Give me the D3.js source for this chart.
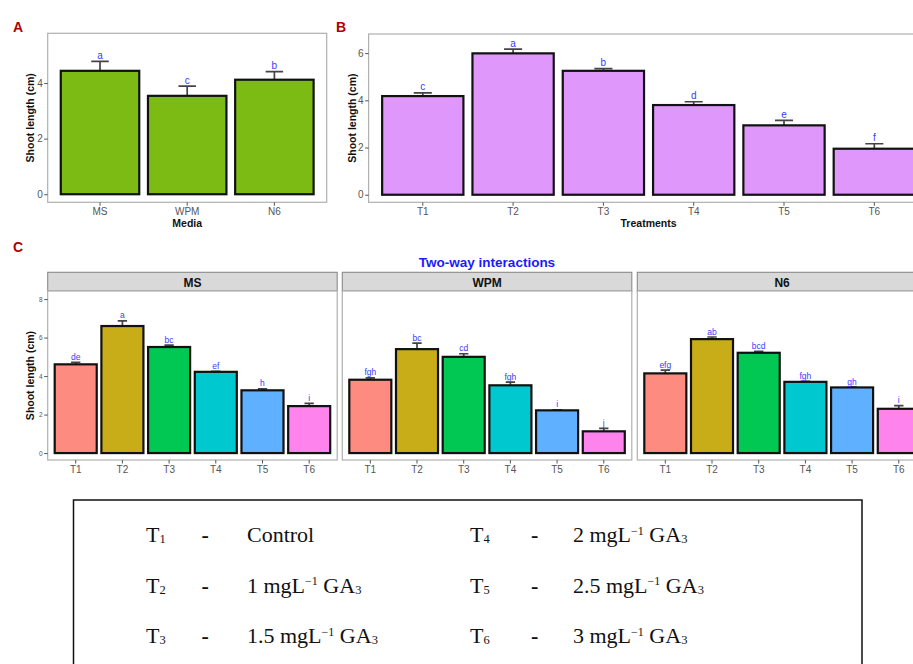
<!DOCTYPE html>
<html>
<head>
<meta charset="utf-8">
<script src="https://cdn.jsdelivr.net/npm/d3@7"></script>
<style>
  body { margin: 0; background: #fff; }
</style>
</head>
<body>
<svg width="913" height="664"></svg>
<script>
// ---- data ----
const media = ["MS", "WPM", "N6"];
const mediaMean = [4.44, 3.54, 4.12];
const mediaSE = [0.34, 0.35, 0.29];
const mediaLetters = ["a", "c", "b"];

const treatments = ["T1", "T2", "T3", "T4", "T5", "T6"];
const treatMean = [4.18, 5.99, 5.25, 3.80, 2.94, 1.95];
const treatSE = [0.14, 0.18, 0.09, 0.14, 0.21, 0.21];
const treatLetters = ["c", "a", "b", "d", "e", "f"];

const msMean = [4.61, 6.60, 5.51, 4.22, 3.26, 2.44];
const msSE = [0.10, 0.27, 0.10, 0.03, 0.08, 0.14];
const msLetters = ["de", "a", "bc", "ef", "h", "i"];

const wpmMean = [3.81, 5.40, 5.00, 3.52, 2.22, 1.13];
const wpmSE = [0.10, 0.31, 0.16, 0.17, 0.02, 0.15];
const wpmLetters = ["fgh", "bc", "cd", "fgh", "i", "j"];

const n6Mean = [4.14, 5.92, 5.21, 3.70, 3.41, 2.30];
const n6SE = [0.17, 0.11, 0.07, 0.02, 0.02, 0.16];
const n6Letters = ["efg", "ab", "bcd", "fgh", "gh", "i"];

const yTicksA = [0, 2, 4];
const yTicksB = [0, 2, 4, 6];
const yTicksC = [0, 2, 4, 6, 8];

const treatColors = ["#fd8b7f", "#c9ad18", "#00c853", "#00c8cf", "#5fb0ff", "#ff83ec"];

// legend text
const legendDoses = ["Control", "1", "1.5", "2", "2.5", "3"];

const sans = "Liberation Sans, Arial, sans-serif";
const serif = "Liberation Serif, Times New Roman, serif";

const svg = d3.select("svg").style("font-family", sans);

// draws one ggplot-like bar panel with error bars and letters
function drawPanel(cfg) {
  const x = d3.scaleBand()
    .domain(cfg.cats)
    .range([cfg.left, cfg.right])
    .paddingInner(0.1)
    .paddingOuter(0.15);
  const y = d3.scaleLinear()
    .domain(cfg.yDomain)
    .range([cfg.bottom, cfg.top]);

  const rows = cfg.cats.map((c, i) => ({
    cat: c, mean: cfg.means[i], se: cfg.ses[i], letter: cfg.letters[i],
    fill: Array.isArray(cfg.fill) ? cfg.fill[i] : cfg.fill
  }));

  const g = svg.append("g");

  g.append("rect")
    .attr("x", cfg.left).attr("y", cfg.top)
    .attr("width", cfg.right - cfg.left)
    .attr("height", cfg.bottom - cfg.top)
    .attr("fill", "#fff")
    .attr("stroke", "#b0b0b0")
    .attr("stroke-width", 1.2);

  // x axis
  const xa = g.append("g")
    .attr("transform", `translate(0,${cfg.bottom})`)
    .call(d3.axisBottom(x).tickSize(3.5).tickPadding(2));
  xa.select(".domain").remove();
  xa.selectAll("line").attr("stroke", "#555");
  xa.selectAll("text")
    .attr("fill", "#555")
    .attr("font-size", 10)
    .attr("font-family", sans);

  // y axis
  if (cfg.yTicks) {
    const ya = g.append("g")
      .attr("transform", `translate(${cfg.left},0)`)
      .call(d3.axisLeft(y)
        .tickValues(cfg.yTicks)
        .tickFormat(d3.format("d"))
        .tickSize(3.5)
        .tickPadding(1.5));
    ya.select(".domain").remove();
    ya.selectAll("line").attr("stroke", "#555");
    ya.selectAll("text")
      .attr("fill", "#555")
      .attr("font-size", cfg.yTickSize)
      .attr("font-family", sans);

    g.append("text")
      .attr("transform", `translate(${cfg.titleX},${(cfg.top + cfg.bottom) / 2}) rotate(-90)`)
      .attr("text-anchor", "middle")
      .attr("font-size", 10.5)
      .attr("font-weight", "bold")
      .attr("fill", "#111")
      .text("Shoot length (cm)");
  }

  // error bars (upper half only, bar covers the rest)
  const half = x.step() * 0.1;
  g.selectAll(".err")
    .data(rows)
    .join("path")
    .attr("class", "err")
    .attr("d", d => {
      const cx = x(d.cat) + x.bandwidth() / 2;
      const yt = y(d.mean + d.se);
      return `M${cx - half},${yt}H${cx + half}M${cx},${yt}V${y(d.mean)}`;
    })
    .attr("fill", "none")
    .attr("stroke", "#444")
    .attr("stroke-width", 1.7);

  g.selectAll(".bar")
    .data(rows)
    .join("rect")
    .attr("class", "bar")
    .attr("x", d => x(d.cat))
    .attr("y", d => y(d.mean))
    .attr("width", x.bandwidth())
    .attr("height", d => y(0) - y(d.mean))
    .attr("fill", d => d.fill)
    .attr("stroke", "#111")
    .attr("stroke-width", 2.2);

  g.selectAll(".lab")
    .data(rows)
    .join("text")
    .attr("class", "lab")
    .attr("x", d => x(d.cat) + x.bandwidth() / 2)
    .attr("y", d => y(d.mean + d.se) - 2.5)
    .attr("text-anchor", "middle")
    .attr("font-size", cfg.letterSize)
    .attr("fill", "#3a3aff")
    .text(d => d.letter);

  if (cfg.xTitle) {
    g.append("text")
      .attr("x", (cfg.left + cfg.right) / 2)
      .attr("y", cfg.bottom + 24.5)
      .attr("text-anchor", "middle")
      .attr("font-size", 10.5)
      .attr("font-weight", "bold")
      .attr("fill", "#111")
      .text(cfg.xTitle);
  }
  return g;
}

// ---- panel A ----
drawPanel({
  cats: media, means: mediaMean, ses: mediaSE, letters: mediaLetters,
  fill: "#7cbb14", left: 47.7, right: 326.7, top: 33.3, bottom: 202.3,
  yDomain: [-0.29, 5.79], yTicks: yTicksA, yTickSize: 10, titleX: 34,
  letterSize: 10, xTitle: "Media"
});

// ---- panel B ----
drawPanel({
  cats: treatments, means: treatMean, ses: treatSE, letters: treatLetters,
  fill: "#df97fb", left: 368.6, right: 928.5, top: 34, bottom: 202.3,
  yDomain: [-0.32, 6.81], yTicks: yTicksB, yTickSize: 10, titleX: 356,
  letterSize: 10, xTitle: "Treatments"
});

// ---- panel C, faceted by media ----
const facets = [
  { name: "MS", means: msMean, ses: msSE, letters: msLetters, left: 47.7 },
  { name: "WPM", means: wpmMean, ses: wpmSE, letters: wpmLetters, left: 342.3 },
  { name: "N6", means: n6Mean, ses: n6SE, letters: n6Letters, left: 637.3 }
];
const facetW = 289.5;
facets.forEach((f, i) => {
  svg.append("rect")
    .attr("x", f.left).attr("y", 272.3)
    .attr("width", facetW).attr("height", 18.7)
    .attr("fill", "#d9d9d9")
    .attr("stroke", "#8a8a8a")
    .attr("stroke-width", 1.1);
  svg.append("text")
    .attr("x", f.left + facetW / 2)
    .attr("y", 286.5)
    .attr("text-anchor", "middle")
    .attr("font-size", 12)
    .attr("font-weight", "bold")
    .attr("fill", "#111")
    .text(f.name);

  drawPanel({
    cats: treatments, means: f.means, ses: f.ses, letters: f.letters,
    fill: treatColors, left: f.left, right: f.left + facetW, top: 291, bottom: 460,
    yDomain: [-0.36, 8.42], yTicks: i === 0 ? yTicksC : null, yTickSize: 6.5,
    titleX: 34, letterSize: 8.5
  });
});

svg.append("text")
  .attr("x", 487)
  .attr("y", 267.3)
  .attr("text-anchor", "middle")
  .attr("font-size", 13.5)
  .attr("font-weight", "bold")
  .attr("fill", "#1a1aff")
  .text("Two-way interactions");

// panel tags
[["A", 13, 31.7], ["B", 336, 31.7], ["C", 13, 251.7]].forEach(([t, px, py]) => {
  svg.append("text")
    .attr("x", px).attr("y", py)
    .attr("font-size", 14)
    .attr("font-weight", "bold")
    .attr("fill", "#b00000")
    .text(t);
});

// ---- treatment key box ----
svg.append("rect")
  .attr("x", 73.5).attr("y", 500)
  .attr("width", 788.5).attr("height", 200)
  .attr("fill", "none")
  .attr("stroke", "#111")
  .attr("stroke-width", 1.5);

const colX = [[146, 201.5, 247], [470, 531, 573]];
const rowY = [542, 592.5, 643];

treatments.forEach((t, i) => {
  const [cx, dx, tx] = colX[Math.floor(i / 3)];
  const yy = rowY[i % 3];

  const code = svg.append("text")
    .attr("x", cx).attr("y", yy)
    .attr("font-family", serif)
    .attr("font-size", 22)
    .attr("fill", "#111");
  code.append("tspan").text(t.charAt(0));
  code.append("tspan").attr("font-size", 12.5).attr("dy", 1).text(t.slice(1));

  svg.append("text")
    .attr("x", dx).attr("y", yy)
    .attr("font-family", serif)
    .attr("font-size", 22)
    .attr("font-weight", "bold")
    .attr("fill", "#111")
    .text("-");

  const desc = svg.append("text")
    .attr("x", tx).attr("y", yy)
    .attr("font-family", serif)
    .attr("font-size", 22)
    .attr("fill", "#111");
  if (legendDoses[i] === "Control") {
    desc.text("Control");
  } else {
    desc.append("tspan").text(`${legendDoses[i]} mgL`);
    desc.append("tspan").attr("font-size", 12).attr("dy", -7.5).text("\u22121");
    desc.append("tspan").attr("dy", 7.5).text(" GA");
    desc.append("tspan").attr("font-size", 12.5).attr("dy", 1).text("3");
  }
});
</script>
</body>
</html>
